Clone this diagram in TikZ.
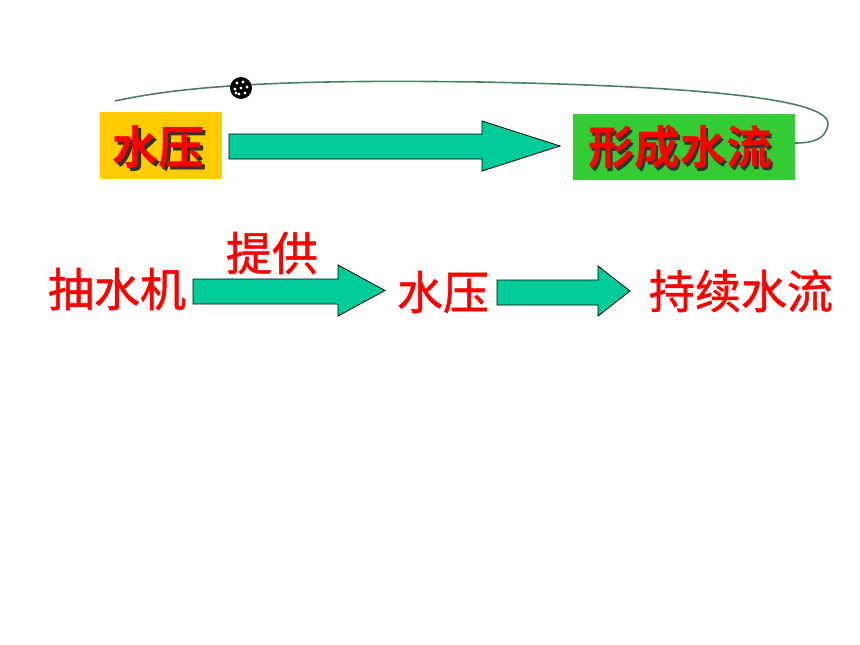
\documentclass[tikz,border=0pt]{standalone}
\usepackage{fontspec}
\newfontfamily\cjkbold{Noto Sans CJK SC Bold}
\newfontfamily\cjkreg[FakeBold=1.2]{Noto Sans CJK SC}
\usetikzlibrary{calc}
\definecolor{boxyellow}{HTML}{FFCC00}
\definecolor{boxgreen}{HTML}{33CC33}
\definecolor{arrowfill}{HTML}{00CC99}
\definecolor{txtred}{HTML}{FF0000}
\definecolor{orbit}{HTML}{4F7F60}
\newcommand{\shadowed}[3]{\makebox[0pt][l]{\hspace{#1}\raisebox{-#1}{\textcolor{#2}{#3}}}\textcolor{txtred}{#3}}
\tikzset{
  toptxt/.style={font=\cjkbold\fontsize{46}{50}\selectfont, inner sep=0pt},
  rowtxt/.style={font=\cjkreg\fontsize{46}{50}\selectfont, text=txtred, inner sep=0pt},
  fatarrow/.style={fill=arrowfill, draw=black, line width=0.8pt, line join=miter},
}
\begin{document}
\begin{tikzpicture}[x=1pt,y=-1pt]
\useasboundingbox (0,0) rectangle (860,645);
% boxes
\node[fill=boxyellow, minimum width=122pt, minimum height=67pt, inner sep=0pt] (b1) at (161,145.5) {};
\node[fill=boxgreen, minimum width=222pt, minimum height=66pt, inner sep=0pt] (b2) at (684,147) {};
% top texts with shadow
\node[toptxt] (t1) at (158.5,148.5) {\shadowed{2.5pt}{black!80}{水压}};
\node[toptxt] (t2) at (680,148.5) {\shadowed{2.5pt}{black!80}{形成水流}};
% orbit
\draw[orbit, line width=1.6pt] (115,101) .. controls (200,82) and (330,80) .. (480,82)
  .. controls (690,86) and (830,98) .. (828,124) .. controls (826,140) and (812,143) .. (795,143);
% bead
\node[circle, fill=black, minimum size=22pt, inner sep=0pt] (bead) at (241,88) {};
\foreach \dx/\dy in {-4/-5,2/-6,6/-1,-6/1,0/0,4/5,-2/6,-5/5}
  \fill[white] ($(bead.center)+(\dx,\dy)$) circle (1.6pt);
% top arrow
\draw[fatarrow] (229,134) -- (482,134) -- (482,121) -- (560,146) -- (482,171) -- (482,159) -- (229,159) -- cycle;
% row 2 texts
\node[rowtxt] (r1) at (117,289) {抽水机};
\node[rowtxt] (r2) at (272,253) {提供};
\node[rowtxt] (r3) at (443,292) {水压};
\node[rowtxt] (r4) at (741,291) {持续水流};
% row 2 arrows
\draw[fatarrow] (193,279) -- (338,279) -- (338,265) -- (385,290.5) -- (338,316) -- (338,304) -- (193,304) -- cycle;
\draw[fatarrow] (497,280) -- (598,280) -- (598,266) -- (630,291) -- (598,316) -- (598,305) -- (497,305) -- cycle;
\end{tikzpicture}
\end{document}
